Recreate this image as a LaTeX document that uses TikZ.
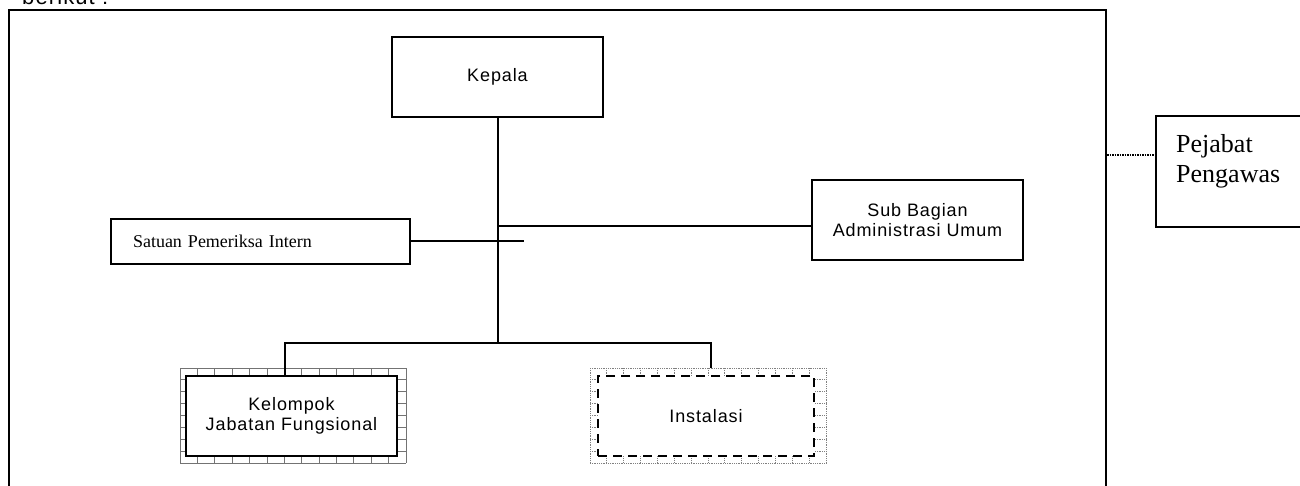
\documentclass[tikz,border=0pt]{standalone}
\usepackage{fontspec}
\setmainfont{Liberation Serif}
\newfontfamily\boxfont[LetterSpace=5]{Liberation Sans}
\usepackage{tikz}
\usetikzlibrary{positioning,calc}
\tikzset{
  unitbox/.style={draw=black, line width=2pt, fill=white, align=center, minimum width=211pt, minimum height=80pt, inner sep=0pt, font=\boxfont\fontsize{18}{19.5}\selectfont},
  thickbox/.style={unitbox, line width=2.8pt},
  dashbox/.style={unitbox, line width=2.6pt, dash pattern=on 9pt off 6pt},
  textbox/.style={draw=black, line width=2pt, fill=white, inner sep=0pt, font=\fontsize{18}{20}\selectfont},
  linkline/.style={draw=black, line width=2pt},
  gridline/.style={draw=black!55, line width=0.8pt},
  dotgrid/.style={draw=black!50, line width=0.8pt, densely dotted}
}

\begin{document}
\begin{tikzpicture}[x=1pt, y=-1pt]
  \useasboundingbox (0,0) rectangle (1300,486);
  \clip (0,0) rectangle (1300,486);
  % page frame and cut-off caption
  \draw[line width=2pt] (9,500) -- (9,10) -- (1106,10) -- (1106,500);
  \node[anchor=base west, inner sep=0pt, font=\boxfont\fontsize{22}{24}\selectfont] (intro) at (22,5) {berikut :};

  % grid backgrounds
  \foreach \i in {0,...,13} \draw[gridline] ({180+\i*17.385},368) -- ++(0,95);
  \foreach \j in {0,...,8} \draw[gridline] (180,{368+\j*11.875}) -- ++(226,0);
  \foreach \i in {0,...,14} \draw[dotgrid] ({590+\i*16.857},368) -- ++(0,95);
  \foreach \j in {0,...,8} \draw[dotgrid] (590,{368+\j*11.875}) -- ++(236,0);

  \node[unitbox] (kepala) at (497.5,77) {Kepala};
  \node[unitbox] (subbag) at (917.5,220) {Sub Bagian\\Administrasi Umum};
  \node[textbox, text width=255pt, inner xsep=22pt, minimum height=45pt, align=left] (spi) at (260.5,241.5) {Satuan Pemeriksa Intern};
  \node[thickbox] (jafung) at (291.5,416) {Kelompok\\Jabatan Fungsional};
  \node[dashbox, minimum width=216pt] (instalasi) at (706,416) {Instalasi};
  \node[draw, line width=2pt, minimum width=170pt, minimum height=111pt, anchor=north west, inner sep=0pt] (pejabat) at (1155,115) {};
  \node[anchor=north west, align=left, inner sep=0pt, font=\fontsize{26}{30}\selectfont] (pejabattxt) at (1176,134) {Pejabat\\Pengawas};

  % connectors
  \coordinate (bus) at (497.5,343);
  \coordinate (busL) at (285,343);
  \coordinate (busR) at (711,343);
  \coordinate (subjoin) at (497.5,226);
  \coordinate (spiend) at (524,241.5);
  \coordinate (framejoin) at (1107,155);
  \draw[linkline] (kepala.south) -- (bus);
  \draw[linkline] (busL |- jafung.north) -- (busL) -- (busR) -- ($(busR |- instalasi.north)+(0,-7)$);
  \draw[linkline] (subjoin) -- (subjoin -| subbag.west);
  \draw[linkline] (spi.east) -- (spiend);
  \draw[densely dotted, line width=1.5pt] (framejoin) -- (framejoin -| pejabat.west);
\end{tikzpicture}
\end{document}
